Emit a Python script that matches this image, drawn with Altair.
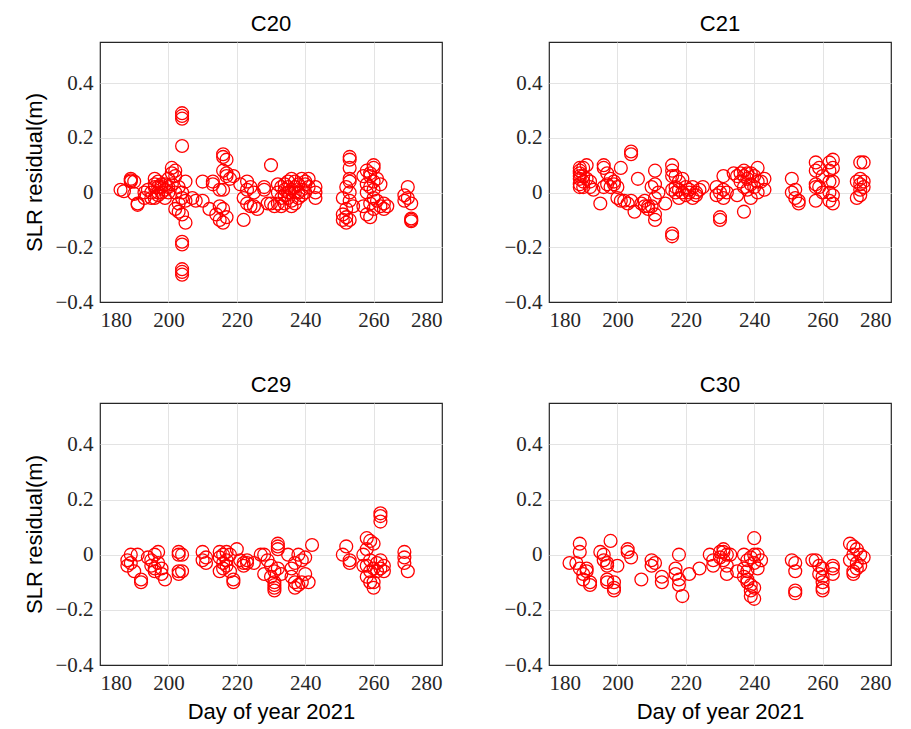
import altair as alt
import pandas as pd

# Residuals: day of year -> list of residuals (m)
c20 = {
    186: [0.01], 187: [0.005], 189: [0.05, 0.04, 0.045], 190: [0.04, -0.005],
    191: [-0.04, -0.045], 193: [0.0, -0.02], 194: [0.01], 195: [0.0, -0.02],
    196: [0.05, 0.02, -0.02, 0.03], 197: [0.04, 0.0, 0.02, -0.01],
    198: [0.02, 0.03, 0.0], 199: [0.01, 0.03, -0.02], 200: [0.05, 0.02, 0.0],
    201: [0.09, 0.07, 0.03], 202: [0.08, 0.06, -0.06, 0.0], 203: [0.02, -0.04, -0.07],
    204: [0.29, 0.28, 0.27, 0.17, -0.18, -0.19, -0.28, -0.29, -0.3, -0.08, -0.02, 0.0],
    205: [-0.11, 0.04, -0.03], 207: [-0.02], 208: [-0.03], 210: [0.04, -0.03],
    212: [-0.06], 213: [0.04, 0.03], 214: [-0.08], 215: [-0.1, -0.05, 0.01],
    216: [0.13, 0.14, 0.08, 0.01, -0.06, -0.11], 217: [0.12, 0.06, 0.07, -0.09],
    218: [0.05], 219: [0.06], 221: [0.03], 222: [-0.1, -0.02], 223: [0.04, 0.01, -0.04],
    224: [0.02, -0.05], 225: [-0.05, 0.0], 226: [-0.06], 228: [0.02, 0.01],
    229: [-0.04], 230: [0.1, -0.04], 231: [-0.05], 232: [-0.04, 0.03, 0.0],
    233: [-0.05, 0.02, -0.02], 234: [0.03, 0.01, -0.04, -0.01],
    235: [0.04, 0.0, -0.02, 0.02], 236: [0.05, 0.01, -0.05, -0.03],
    237: [0.04, 0.0, 0.02, -0.04], 238: [0.03, -0.02, 0.0], 239: [0.05, 0.01, -0.01],
    240: [0.04, 0.03, 0.0], 241: [0.05, 0.02], 243: [0.02, 0.0, -0.02],
    251: [-0.02, -0.08, -0.1], 252: [-0.06, -0.09, -0.11, 0.02],
    253: [0.13, 0.12, 0.09, 0.05, 0.04, 0.0, -0.03, -0.1], 254: [-0.05],
    257: [0.06, -0.05], 258: [0.08, 0.03, 0.0, -0.08], 259: [0.07, 0.02, -0.04, -0.09, 0.06],
    260: [0.1, 0.09, 0.04, 0.01, -0.02, -0.06], 261: [0.05, -0.03], 262: [0.03, -0.05],
    263: [-0.04, -0.06], 264: [-0.05], 269: [-0.01, -0.03], 270: [0.02, -0.02],
    271: [-0.04, -0.1, -0.095, -0.105],
}

c21 = {
    189: [0.09, 0.08, 0.06, 0.05, 0.03, 0.02, 0.07], 190: [0.09, 0.04, 0.06, 0.02],
    191: [0.1, 0.05], 192: [0.04, 0.02], 193: [0.01], 195: [-0.04],
    196: [0.1, 0.09, 0.02], 197: [0.07, 0.03], 198: [0.02, 0.05], 199: [0.04, 0.03],
    200: [0.02, -0.02], 201: [0.09, -0.03], 202: [-0.03], 203: [-0.04],
    204: [0.15, 0.14, -0.03], 205: [-0.07], 206: [0.05], 207: [-0.04],
    208: [-0.05, -0.03], 209: [-0.05, -0.06], 210: [0.02, -0.05],
    211: [0.08, 0.03, -0.08, -0.1, -0.02], 212: [0.0], 214: [-0.04],
    216: [0.1, 0.08, 0.06, 0.01, -0.16, -0.15], 217: [0.06, 0.02, 0.0],
    218: [0.04, 0.01, -0.02], 219: [0.05, 0.0], 220: [0.02, -0.01], 221: [0.01, 0.0],
    222: [0.02, -0.02], 223: [0.0, -0.01], 224: [0.01], 225: [0.02],
    229: [0.02, -0.01], 230: [0.0, -0.09, -0.1], 231: [0.06, 0.01, -0.02], 232: [0.0],
    234: [0.07], 235: [0.06, -0.01], 236: [0.07, 0.04], 237: [0.08, 0.06, 0.02, -0.07],
    238: [0.07, 0.05, 0.01], 239: [0.07, 0.03, -0.02], 240: [0.06, 0.02],
    241: [0.09, 0.04, 0.0], 242: [0.04], 243: [0.05, 0.01],
    251: [0.05, 0.0], 252: [0.01, -0.02], 253: [-0.04, -0.03],
    258: [0.11, 0.08, 0.03, 0.02, -0.03], 259: [0.09, 0.02], 260: [0.06, 0.0],
    262: [0.11, 0.08, 0.04, 0.0, -0.03], 263: [0.12, 0.09, 0.04, -0.01, -0.04],
    270: [0.04, -0.02], 271: [0.11, 0.05, 0.03, 0.01, -0.01], 272: [0.11, 0.04, 0.02],
}

c29 = {
    188: [-0.02, -0.04], 189: [0.0, -0.03], 190: [-0.06], 191: [0.0],
    192: [-0.1, -0.09], 194: [-0.01], 195: [-0.04, -0.02], 196: [0.0, -0.06, -0.05],
    197: [0.01, -0.03], 198: [-0.07, -0.05], 199: [-0.09],
    203: [0.01, 0.0, -0.06, -0.07], 204: [0.0, -0.06], 210: [0.01, -0.02],
    211: [-0.01, -0.03], 215: [0.01, -0.01, -0.06], 216: [0.0, -0.03, -0.05],
    217: [0.01, -0.02, -0.04], 218: [0.0, -0.06], 219: [-0.09, -0.1], 220: [0.02],
    221: [-0.02], 222: [-0.03, -0.04], 223: [-0.02, -0.03], 225: [-0.03],
    227: [0.0], 228: [0.0, -0.07], 229: [-0.02], 230: [-0.04, -0.08],
    231: [-0.1, -0.12, -0.13, -0.06, -0.11], 232: [0.03, 0.04, -0.05, 0.02],
    233: [-0.07], 235: [0.0], 236: [-0.05, -0.08], 237: [-0.1, -0.12, -0.03],
    238: [0.0, -0.11], 239: [-0.02, -0.1], 240: [-0.07, -0.01], 241: [-0.1],
    242: [0.035], 251: [0.0], 252: [0.03], 253: [-0.02, -0.03], 257: [0.0, -0.04],
    258: [0.06, 0.02, -0.04, -0.08], 259: [0.05, -0.02, -0.1, -0.06],
    260: [0.04, -0.05, -0.1, -0.12], 261: [-0.03, -0.06],
    262: [0.15, 0.14, 0.12, -0.02, -0.05], 263: [-0.04, -0.06],
    269: [0.01, -0.01, -0.03], 270: [-0.06],
}

c30 = {
    186: [-0.03], 188: [-0.03], 189: [0.04, 0.01, -0.05], 190: [-0.07, -0.09],
    191: [-0.05, -0.06], 192: [-0.1, -0.11], 195: [0.01], 196: [0.0, -0.02],
    197: [-0.03, -0.04, -0.09, -0.1], 198: [0.05], 199: [-0.1, -0.12, -0.13],
    200: [-0.04], 203: [0.01, 0.02], 204: [-0.01], 207: [-0.09],
    210: [-0.02, -0.04], 211: [-0.03], 213: [-0.08, -0.1], 217: [-0.05, -0.07],
    218: [0.0, -0.09, -0.11], 219: [-0.15], 221: [-0.07], 224: [-0.05], 227: [0.0],
    228: [-0.02, -0.04], 230: [-0.01, 0.01], 231: [0.02, -0.02, 0.01],
    232: [0.0, -0.04, -0.07], 233: [0.0], 235: [-0.06], 237: [0.0, -0.05, -0.08],
    238: [-0.02, -0.06, -0.09, -0.1], 239: [-0.01, -0.11, -0.13, -0.15],
    240: [0.06, 0.0, -0.16, -0.12, -0.03], 241: [-0.05, 0.0], 242: [-0.02],
    251: [-0.02], 252: [-0.13, -0.14, -0.06, -0.03], 257: [-0.02], 258: [-0.02],
    259: [-0.04, -0.07], 260: [-0.05, -0.08, -0.1, -0.12, -0.13],
    263: [-0.04, -0.05, -0.07], 268: [0.04, -0.02], 269: [0.03, 0.0, -0.06, -0.07],
    270: [0.02, -0.03, -0.05], 271: [0.0, -0.04], 272: [-0.01],
}

x_ticks = [180, 200, 220, 240, 260, 280]
y_ticks = [-0.4, -0.2, 0, 0.2, 0.4]


def frame(d):
    rows = [(day, r) for day, vals in d.items() for r in vals]
    return pd.DataFrame(rows, columns=["day", "res"])


x_grid_op = {"condition": {"test": "datum.value <= 180 || datum.value >= 280", "value": 0}, "value": 1}
y_grid_op = {"condition": {"test": "datum.value <= -0.39", "value": 0}, "value": 1}


def panel(d, name, y_title, x_title, h):
    xa = dict(values=x_ticks, format="d", gridOpacity=x_grid_op)
    xa["title"] = "Day of year 2021" if x_title else None
    ya = dict(values=y_ticks, format=".1~f", gridOpacity=y_grid_op)
    ya["title"] = "SLR residual(m)" if y_title else None
    return alt.Chart(frame(d)).mark_point(
        shape="circle", filled=False, color="#ff0000", size=165, strokeWidth=1.3, opacity=1
    ).encode(
        x=alt.X("day:Q", scale=alt.Scale(domain=[180, 280], nice=False, zero=False), axis=alt.Axis(**xa)),
        y=alt.Y("res:Q", scale=alt.Scale(domain=[-0.4, 0.55], nice=False, zero=False), axis=alt.Axis(**ya)),
    ).properties(
        width=342, height=h,
        title=alt.TitleParams(name, font="Liberation Sans", fontSize=22, fontWeight="normal",
                              color="#000000", offset=6),
    )


chart = alt.concat(
    panel(c20, "C20", True, False, 260),
    panel(c21, "C21", False, False, 260),
    panel(c29, "C29", True, True, 262),
    panel(c30, "C30", False, True, 262),
    columns=2,
    spacing={"row": 101, "column": 107},
    bounds="flush",
).properties(
    padding={"left": 23, "top": 12, "right": 10, "bottom": 5},
    background="white",
).configure_view(
    stroke="#262626", strokeWidth=1.2
).configure_axis(
    labelFont="Liberation Serif", labelFontSize=21, labelColor="#262626",
    titleFont="Liberation Sans", titleFontSize=22, titleFontWeight="normal", titleColor="#000000",
    grid=True, gridColor="#e3e3e3", gridWidth=1, domain=False, ticks=False,
    labelPadding=7,
).configure_axisY(
    titlePadding=8
).configure_axisX(
    titlePadding=8
)

chart.save("out.html", embed_options={"renderer": "svg", "actions": False})
